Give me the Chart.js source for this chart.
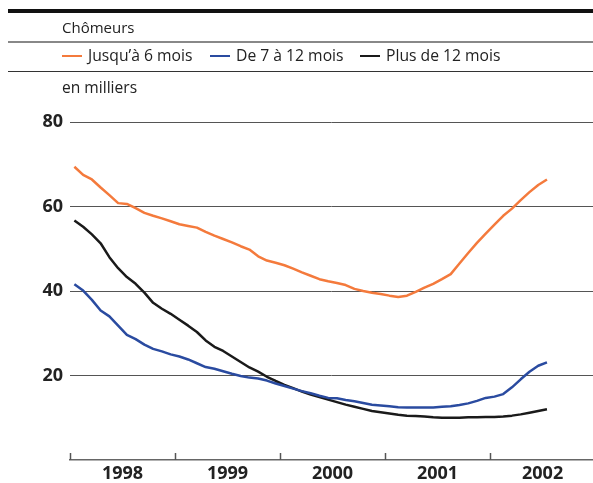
<!DOCTYPE html>
<html>
<head>
<meta charset="utf-8">
<script src="https://cdn.jsdelivr.net/npm/chart.js@4.4.0/dist/chart.umd.min.js"></script>
<style>
  body { margin: 0; background: #fff; }
  #wrap { position: relative; width: 593px; height: 483px; font-family: "Open Sans", sans-serif; color: #222; }
  #wrap canvas { position: absolute; left: 0; top: 0; }
  .rule { position: absolute; left: 8px; right: 0; }
  .txt { position: absolute; left: 62px; font-size: 15.6px; line-height: 18px; white-space: nowrap; }
  .leg { position: absolute; top: 46px; font-size: 15.7px; line-height: 18px; white-space: nowrap; }
  .leg i { display: inline-block; width: 20px; height: 2px; vertical-align: middle; margin-right: 6px; position: relative; top: -1px; }
</style>
</head>
<body>
<div id="wrap">
  <canvas id="chomeursChart" width="593" height="483"></canvas>
  <div class="rule" style="top:9px;height:4px;background:#111"></div>
  <div class="txt" style="top:18px;font-size:15px">Chômeurs</div>
  <div class="rule" style="top:41px;height:1.5px;background:#888"></div>
  <div class="leg" style="left:62px"><i style="background:#f47a3c"></i>Jusqu’à 6 mois</div>
  <div class="leg" style="left:210px"><i style="background:#2a4ba0"></i>De 7 à 12 mois</div>
  <div class="leg" style="left:360px"><i style="background:#1a1a1a"></i>Plus de 12 mois</div>
  <div class="rule" style="top:71px;height:1px;background:#333"></div>
  <div class="txt" style="top:78px">en milliers</div>
</div>
<script>
// monthly values, Jan 1998 .. Jul 2002 (thousands)
const jusqua6 = [69.4, 67.5, 66.4, 64.5, 62.7, 60.8, 60.6, 59.6, 58.5, 57.8, 57.2, 56.5,
  55.8, 55.4, 55.0, 54.0, 53.1, 52.3, 51.5, 50.6, 49.8, 48.2, 47.2, 46.7,
  46.1, 45.3, 44.4, 43.6, 42.8, 42.3, 41.9, 41.4, 40.5, 40.0, 39.6, 39.3,
  38.9, 38.6, 38.9, 39.8, 40.8, 41.7, 42.8, 44.0, 46.5, 49.0, 51.4, 53.6,
  55.7, 57.8, 59.5, 61.5, 63.4, 65.1, 66.4];
const de7a12 = [41.6, 40.1, 37.9, 35.4, 34.0, 31.8, 29.6, 28.6, 27.3, 26.3, 25.7, 25.0,
  24.5, 23.8, 22.9, 22.0, 21.6, 21.0, 20.4, 19.9, 19.5, 19.3, 18.8, 18.1,
  17.5, 16.9, 16.3, 15.8, 15.2, 14.7, 14.6, 14.2, 13.9, 13.5, 13.1, 12.9,
  12.7, 12.5, 12.4, 12.4, 12.4, 12.4, 12.6, 12.7, 13.0, 13.4, 14.0, 14.7,
  15.0, 15.6, 17.2, 19.1, 20.9, 22.3, 23.1];
const plusDe12 = [56.7, 55.2, 53.4, 51.3, 48.0, 45.4, 43.3, 41.7, 39.6, 37.2, 35.8, 34.6,
  33.2, 31.8, 30.3, 28.3, 26.8, 25.8, 24.5, 23.2, 21.9, 20.9, 19.7, 18.7,
  17.8, 17.0, 16.2, 15.5, 14.9, 14.3, 13.7, 13.1, 12.6, 12.1, 11.6, 11.3,
  11.0, 10.7, 10.5, 10.4, 10.3, 10.1, 10.0, 10.0, 10.0, 10.1, 10.1, 10.2,
  10.2, 10.3, 10.5, 10.8, 11.2, 11.6, 12.0];
const years = [1998, 1999, 2000, 2001, 2002];
const yTicks = [20, 40, 60, 80];

// month midpoints as decimal years
const monthPos = jusqua6.map((_, i) => 1998 + (i + 0.5) / 12);
const toPoints = (arr) => arr.map((v, i) => ({ x: monthPos[i], y: v }));

const yearTickMarks = {
    id: 'yearTickMarks',
    afterDraw(chart) {
        const ctx = chart.ctx;
        const xs = chart.scales.x;
        const bottom = chart.chartArea.bottom;
        ctx.save();
        ctx.strokeStyle = '#555';
        ctx.lineWidth = 1.5;
        years.forEach(y => {
            const px = Math.round(xs.getPixelForValue(y)) + 0.5;
            ctx.beginPath();
            ctx.moveTo(px, bottom - 7);
            ctx.lineTo(px, bottom);
            ctx.stroke();
        });
        ctx.restore();
    }
};

const lineStyle = (color) => ({
    borderColor: color,
    borderWidth: 2.5,
    pointRadius: 0,
    fill: false,
    tension: 0,
    borderJoinStyle: 'round'
});

new Chart(document.getElementById('chomeursChart').getContext('2d'), {
    type: 'line',
    data: {
        datasets: [
            { label: 'Jusqu’à 6 mois', data: toPoints(jusqua6), ...lineStyle('#f47a3c') },
            { label: 'De 7 à 12 mois', data: toPoints(de7a12), ...lineStyle('#2a4ba0') },
            { label: 'Plus de 12 mois', data: toPoints(plusDe12), ...lineStyle('#1a1a1a') }
        ]
    },
    options: {
        responsive: false,
        animation: false,
        layout: { padding: { top: 122, right: 0, left: 0, bottom: 0 } },
        plugins: {
            legend: { display: false },
            title: { display: false },
            tooltip: { enabled: false }
        },
        scales: {
            x: {
                type: 'linear',
                min: 1998,
                max: 2002.98,
                afterFit: (s) => { s.height = 23; },
                afterBuildTicks: (s) => { s.ticks = years.map(y => ({ value: y + 0.5 })); },
                grid: { display: false, drawTicks: false },
                border: { display: true, color: '#666', width: 1.5 },
                ticks: {
                    padding: 3,
                    color: '#222',
                    font: { family: 'Open Sans', size: 18, weight: 'bold' },
                    maxRotation: 0,
                    callback: (v) => String(Math.floor(v))
                }
            },
            y: {
                min: 0,
                max: 80,
                afterFit: (s) => { s.width = 70; },
                afterBuildTicks: (s) => { s.ticks = yTicks.map(v => ({ value: v })); },
                grid: { color: '#555', lineWidth: 1, drawTicks: false },
                border: { display: false },
                ticks: {
                    padding: 7,
                    color: '#222',
                    font: { family: 'Open Sans', size: 18, weight: 'bold' }
                }
            }
        }
    },
    plugins: [yearTickMarks]
});
</script>
</body>
</html>
